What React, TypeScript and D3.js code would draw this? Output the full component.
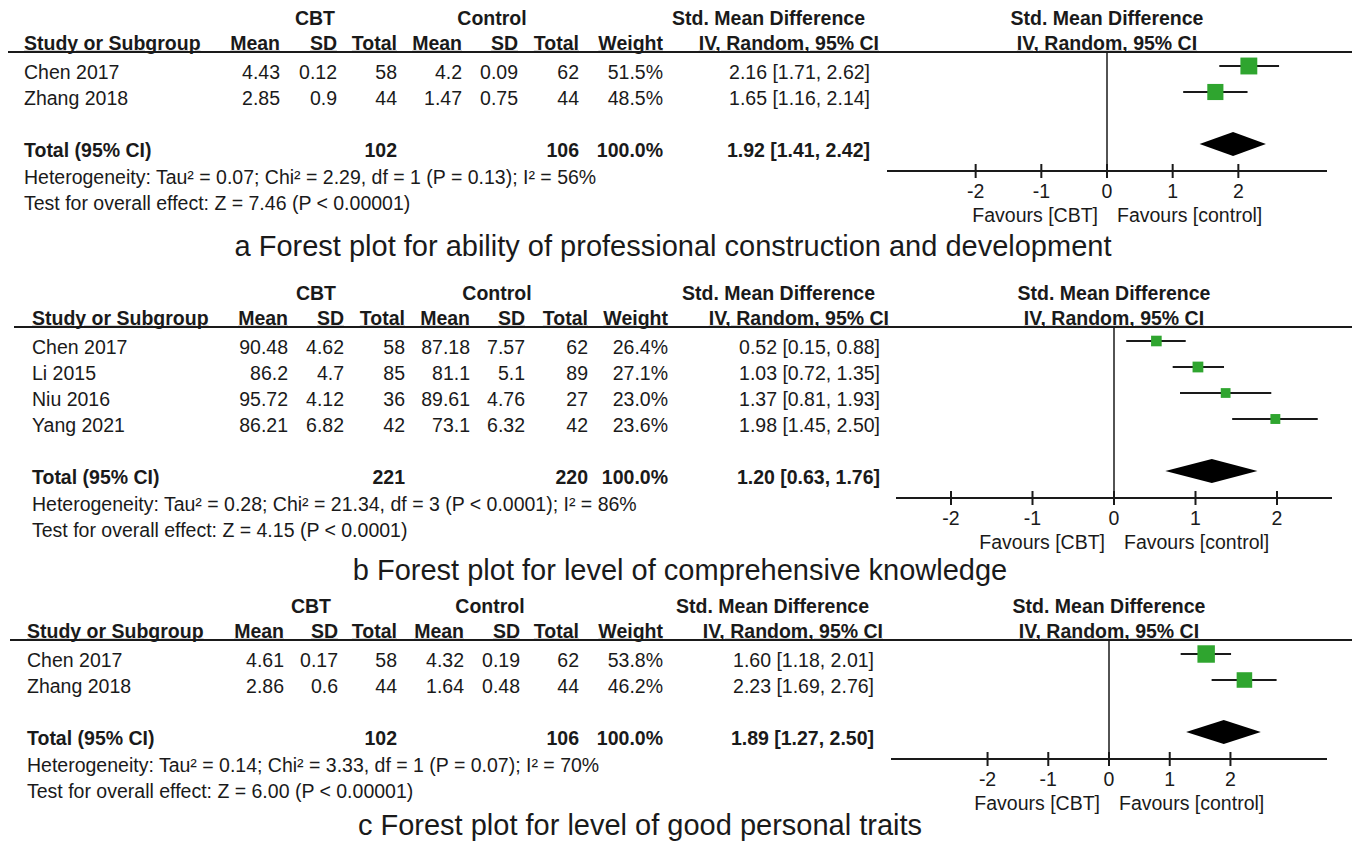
import * as d3 from "d3";

// ---- panel a: ability of professional construction and development
const studiesA = ["Chen 2017", "Zhang 2018"];
const cbtMeanA = ["4.43", "2.85"];
const cbtSdA = ["0.12", "0.9"];
const cbtNA = [58, 44];
const ctlMeanA = ["4.2", "1.47"];
const ctlSdA = ["0.09", "0.75"];
const ctlNA = [62, 44];
const weightA = [51.5, 48.5];
const smdA = [2.16, 1.65];
const loA = [1.71, 1.16];
const hiA = [2.62, 2.14];
const pooledA = [1.92, 1.41, 2.42];
const totalsA = [102, 106];
const hetA = "Heterogeneity: Tau² = 0.07; Chi² = 2.29, df = 1 (P = 0.13); I² = 56%";
const testA = "Test for overall effect: Z = 7.46 (P < 0.00001)";
const captionA = "a Forest plot for ability of professional construction and development";

// ---- panel b: level of comprehensive knowledge
const studiesB = ["Chen 2017", "Li 2015", "Niu 2016", "Yang 2021"];
const cbtMeanB = ["90.48", "86.2", "95.72", "86.21"];
const cbtSdB = ["4.62", "4.7", "4.12", "6.82"];
const cbtNB = [58, 85, 36, 42];
const ctlMeanB = ["87.18", "81.1", "89.61", "73.1"];
const ctlSdB = ["7.57", "5.1", "4.76", "6.32"];
const ctlNB = [62, 89, 27, 42];
const weightB = [26.4, 27.1, 23.0, 23.6];
const smdB = [0.52, 1.03, 1.37, 1.98];
const loB = [0.15, 0.72, 0.81, 1.45];
const hiB = [0.88, 1.35, 1.93, 2.5];
const pooledB = [1.2, 0.63, 1.76];
const totalsB = [221, 220];
const hetB = "Heterogeneity: Tau² = 0.28; Chi² = 21.34, df = 3 (P < 0.0001); I² = 86%";
const testB = "Test for overall effect: Z = 4.15 (P < 0.0001)";
const captionB = "b Forest plot for level of comprehensive knowledge";

// ---- panel c: level of good personal traits
const studiesC = ["Chen 2017", "Zhang 2018"];
const cbtMeanC = ["4.61", "2.86"];
const cbtSdC = ["0.17", "0.6"];
const cbtNC = [58, 44];
const ctlMeanC = ["4.32", "1.64"];
const ctlSdC = ["0.19", "0.48"];
const ctlNC = [62, 44];
const weightC = [53.8, 46.2];
const smdC = [1.6, 2.23];
const loC = [1.18, 1.69];
const hiC = [2.01, 2.76];
const pooledC = [1.89, 1.27, 2.5];
const totalsC = [102, 106];
const hetC = "Heterogeneity: Tau² = 0.14; Chi² = 3.33, df = 1 (P = 0.07); I² = 70%";
const testC = "Test for overall effect: Z = 6.00 (P < 0.00001)";
const captionC = "c Forest plot for level of good personal traits";

const colHeaders = ["Mean", "SD", "Total", "Mean", "SD", "Total", "Weight"];
const axisTicks = [-2, -1, 0, 1, 2];

const FONT = "'Liberation Sans', Arial, Helvetica, sans-serif";
const FS = 19.5;
const INK = "#1a1a1a";
const GREEN = "#2fa52f";

interface PanelData {
  studies: string[];
  cbtMean: string[];
  cbtSd: string[];
  cbtN: number[];
  ctlMean: string[];
  ctlSd: string[];
  ctlN: number[];
  weight: number[];
  smd: number[];
  lo: number[];
  hi: number[];
  pooled: number[];
  totals: number[];
  het: string;
  test: string;
  caption: string;
}

interface PanelLayout {
  lineY: number;
  lineX0: number;
  studyX: number;
  cols: number[];
  ciRight: number;
  groupCx: number[];
  axis: [number, number];
  half: number;
  captionX: number;
  captionY: number;
}

const panels: { d: PanelData; l: PanelLayout }[] = [
  {
    d: {
      studies: studiesA, cbtMean: cbtMeanA, cbtSd: cbtSdA, cbtN: cbtNA,
      ctlMean: ctlMeanA, ctlSd: ctlSdA, ctlN: ctlNA, weight: weightA,
      smd: smdA, lo: loA, hi: hiA, pooled: pooledA, totals: totalsA,
      het: hetA, test: testA, caption: captionA,
    },
    l: {
      lineY: 52, lineX0: 8, studyX: 24,
      cols: [280, 337, 397, 462, 518, 579, 663], ciRight: 870,
      groupCx: [315, 492], axis: [887, 1327], half: 3.35,
      captionX: 673, captionY: 246,
    },
  },
  {
    d: {
      studies: studiesB, cbtMean: cbtMeanB, cbtSd: cbtSdB, cbtN: cbtNB,
      ctlMean: ctlMeanB, ctlSd: ctlSdB, ctlN: ctlNB, weight: weightB,
      smd: smdB, lo: loB, hi: hiB, pooled: pooledB, totals: totalsB,
      het: hetB, test: testB, caption: captionB,
    },
    l: {
      lineY: 327, lineX0: 14, studyX: 32,
      cols: [288, 344, 405, 470, 525, 588, 668], ciRight: 880,
      groupCx: [316, 497], axis: [896, 1332], half: 2.675,
      captionX: 680, captionY: 570,
    },
  },
  {
    d: {
      studies: studiesC, cbtMean: cbtMeanC, cbtSd: cbtSdC, cbtN: cbtNC,
      ctlMean: ctlMeanC, ctlSd: ctlSdC, ctlN: ctlNC, weight: weightC,
      smd: smdC, lo: loC, hi: hiC, pooled: pooledC, totals: totalsC,
      het: hetC, test: testC, caption: captionC,
    },
    l: {
      lineY: 640, lineX0: 10, studyX: 27,
      cols: [284, 338, 397, 464, 520, 579, 663], ciRight: 874,
      groupCx: [311, 490], axis: [891, 1327], half: 3.59,
      captionX: 640, captionY: 825,
    },
  },
];

function T({
  x, y, children, anchor = "start", bold = false, underline = false, size = FS,
}: {
  x: number; y: number; children: any; anchor?: string; bold?: boolean; underline?: boolean; size?: number;
}) {
  return (
    <text
      x={x}
      y={y}
      dy="0.35em"
      textAnchor={anchor}
      fontWeight={bold ? "bold" : "normal"}
      textDecoration={underline ? "underline" : undefined}
      fontSize={size}
      fill={INK}
    >
      {children}
    </text>
  );
}

function ForestPanel({ d, l }: { d: PanelData; l: PanelLayout }) {
  const x = d3.scaleLinear().domain([-l.half, l.half]).range(l.axis);
  const box = d3.scaleLinear().domain([0, 100]).range([4, 29]);
  const f2 = d3.format(".2f");
  const f1 = d3.format(".1f");

  const rowY = (i: number) => l.lineY + 20 + 26 * i;
  const totalY = rowY(d.studies.length - 1) + 52;
  const axisY = totalY + 21;
  const dY = totalY - 6;
  const [est, plo, phi] = d.pooled;
  const diamond =
    d3.line()([
      [x(plo), dY],
      [x(est), dY - 12],
      [x(phi), dY],
      [x(est), dY + 12],
    ]) + "Z";

  const rowCells = (i: number) => [
    d.cbtMean[i], d.cbtSd[i], String(d.cbtN[i]),
    d.ctlMean[i], d.ctlSd[i], String(d.ctlN[i]),
    `${f1(d.weight[i])}%`,
  ];

  return (
    <g>
      {/* group headers */}
      <T x={l.groupCx[0]} y={l.lineY - 34} anchor="middle" bold>CBT</T>
      <T x={l.groupCx[1]} y={l.lineY - 34} anchor="middle" bold>Control</T>
      <T x={l.ciRight - 5} y={l.lineY - 34} anchor="end" bold>Std. Mean Difference</T>
      <T x={x(0)} y={l.lineY - 34} anchor="middle" bold>Std. Mean Difference</T>

      {/* column headers */}
      <T x={l.studyX} y={l.lineY - 9} bold underline>Study or Subgroup</T>
      {colHeaders.map((h, j) => (
        <T key={j} x={l.cols[j]} y={l.lineY - 9} anchor="end" bold underline>{h}</T>
      ))}
      <T x={l.ciRight + 9} y={l.lineY - 9} anchor="end" bold underline>IV, Random, 95% CI</T>
      <T x={x(0)} y={l.lineY - 9} anchor="middle" bold underline>IV, Random, 95% CI</T>
      <line x1={l.lineX0} x2={1352} y1={l.lineY} y2={l.lineY} stroke={INK} strokeWidth={2} />

      {/* study rows */}
      {d.studies.map((s, i) => (
        <g key={s}>
          <T x={l.studyX} y={rowY(i)}>{s}</T>
          {rowCells(i).map((v, j) => (
            <T key={j} x={l.cols[j]} y={rowY(i)} anchor="end">{v}</T>
          ))}
          <T x={l.ciRight} y={rowY(i)} anchor="end">
            {`${f2(d.smd[i])} [${f2(d.lo[i])}, ${f2(d.hi[i])}]`}
          </T>
        </g>
      ))}

      {/* total row */}
      <T x={l.studyX} y={totalY} bold>Total (95% CI)</T>
      <T x={l.cols[2]} y={totalY} anchor="end" bold>{d.totals[0]}</T>
      <T x={l.cols[5]} y={totalY} anchor="end" bold>{d.totals[1]}</T>
      <T x={l.cols[6]} y={totalY} anchor="end" bold>100.0%</T>
      <T x={l.ciRight} y={totalY} anchor="end" bold>
        {`${f2(est)} [${f2(plo)}, ${f2(phi)}]`}
      </T>
      <T x={l.studyX} y={totalY + 27}>{d.het}</T>
      <T x={l.studyX} y={totalY + 53}>{d.test}</T>

      {/* forest */}
      <line x1={x(0)} x2={x(0)} y1={l.lineY} y2={axisY} stroke={INK} strokeWidth={1.5} />
      {d.studies.map((s, i) => {
        const cy = rowY(i) - 6;
        const sz = box(d.weight[i]);
        return (
          <g key={s}>
            <line x1={x(d.lo[i])} x2={x(d.hi[i])} y1={cy} y2={cy} stroke={INK} strokeWidth={2} />
            <rect x={x(d.smd[i]) - sz / 2} y={cy - sz / 2} width={sz} height={sz} fill={GREEN} />
          </g>
        );
      })}
      <path d={diamond} fill="#000" />

      {/* axis */}
      <line x1={l.axis[0]} x2={l.axis[1]} y1={axisY} y2={axisY} stroke={INK} strokeWidth={2} />
      {axisTicks.map((t) => (
        <g key={t}>
          <line x1={x(t)} x2={x(t)} y1={axisY - 7} y2={axisY + 7} stroke={INK} strokeWidth={2} />
          <T x={x(t)} y={axisY + 20} anchor="middle">{String(t)}</T>
        </g>
      ))}
      <T x={x(0) - 9} y={axisY + 44} anchor="end">Favours [CBT]</T>
      <T x={x(0) + 10} y={axisY + 44}>Favours [control]</T>

      {/* caption */}
      <T x={l.captionX} y={l.captionY} anchor="middle" size={29}>{d.caption}</T>
    </g>
  );
}

export default function App() {
  return (
    <div style={{ position: "absolute", left: 0, top: 0 }}>
      <svg
        width={1352}
        height={845}
        style={{ display: "block", background: "#fff", fontFamily: FONT }}
        role="img"
        aria-label="Forest plots comparing CBT and control"
      >
        {panels.map((p, k) => (
          <ForestPanel key={k} d={p.d} l={p.l} />
        ))}
      </svg>
    </div>
  );
}
